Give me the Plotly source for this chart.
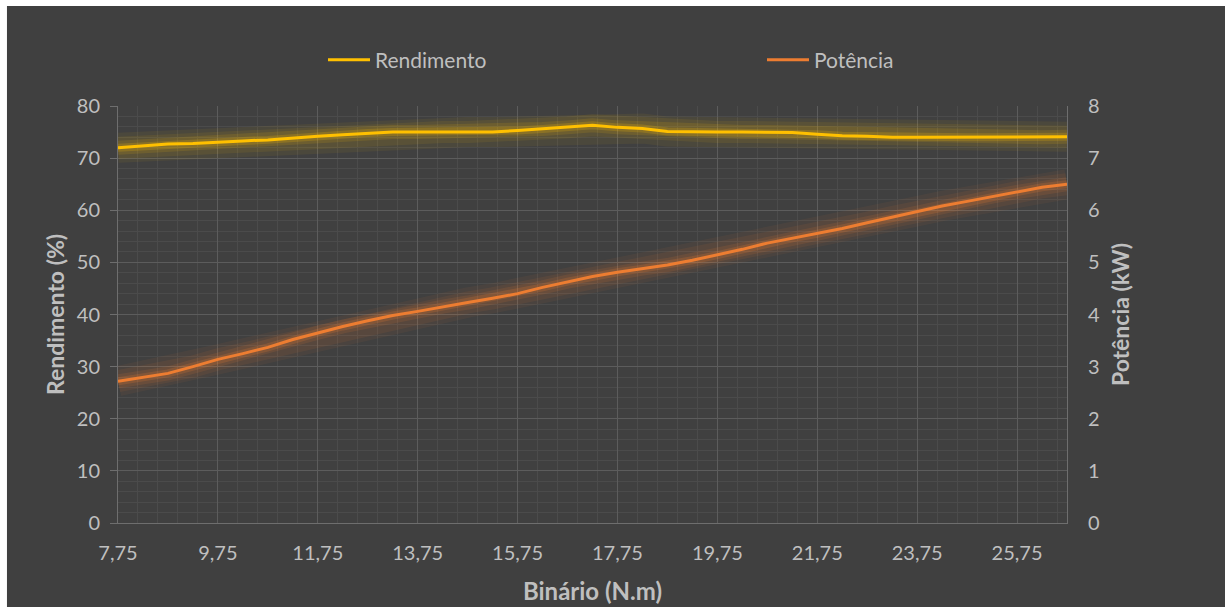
import plotly.graph_objects as go

# Binário (N.m)
binario = [7.75, 8.25, 8.75, 9.25, 9.75, 10.25, 10.75, 11.25, 11.75, 12.25,
           12.75, 13.25, 13.75, 14.25, 14.75, 15.25, 15.75, 16.25, 16.75, 17.25,
           17.75, 18.25, 18.75, 19.25, 19.75, 20.25, 20.75, 21.25, 21.75, 22.25,
           22.75, 23.25, 23.75, 24.25, 24.75, 25.25, 25.75, 26.25, 26.75]

# Rendimento (%)
rendimento = [72.0, 72.3, 72.7, 72.8, 73.1, 73.3, 73.5, 73.9, 74.2, 74.5,
              74.8, 75.0, 75.0, 75.0, 75.0, 75.0, 75.3, 75.6, 75.9, 76.3,
              75.9, 75.7, 75.1, 75.0, 75.0, 75.0, 75.0, 74.9, 74.6, 74.3,
              74.2, 74.0, 74.0, 74.0, 74.0, 74.0, 74.0, 74.0, 74.1]

# Potência (kW)
potencia = [2.72, 2.79, 2.87, 3.00, 3.14, 3.25, 3.37, 3.52, 3.65, 3.77,
            3.88, 3.98, 4.06, 4.15, 4.23, 4.31, 4.40, 4.52, 4.63, 4.73,
            4.81, 4.88, 4.95, 5.04, 5.14, 5.25, 5.37, 5.46, 5.55, 5.65,
            5.76, 5.87, 5.98, 6.08, 6.17, 6.26, 6.35, 6.44, 6.50]

YELLOW = "#FFC000"
ORANGE = "#ED7D31"
BG = "#404040"
TXT = "#BFBFBF"
FONT = "Lato"

fig = go.Figure()

# soft glow layers
for w, op in [(30, 0.06), (22, 0.08), (14, 0.12), (8, 0.2)]:
    fig.add_trace(go.Scatter(x=binario, y=rendimento, mode="lines",
                             line=dict(color=YELLOW, width=w), opacity=op,
                             showlegend=False, hoverinfo="skip"))
    fig.add_trace(go.Scatter(x=binario, y=potencia, mode="lines", yaxis="y2",
                             line=dict(color=ORANGE, width=w), opacity=op,
                             showlegend=False, hoverinfo="skip"))

fig.add_trace(go.Scatter(x=binario, y=rendimento, mode="lines", name="Rendimento",
                         line=dict(color=YELLOW, width=3)))
fig.add_trace(go.Scatter(x=binario, y=potencia, mode="lines", name="Potência",
                         yaxis="y2", line=dict(color=ORANGE, width=3)))

fig.update_layout(
    width=1225, height=607,
    margin=dict(l=118, r=158, t=106, b=84, autoexpand=False),
    paper_bgcolor="white",
    plot_bgcolor="rgba(0,0,0,0)",
    separators=",.",
    font=dict(family=FONT, color=TXT, size=20),
    shapes=[dict(type="rect", xref="paper", yref="paper",
                 x0=-0.117, x1=1.2, y0=-0.25, y1=1.2398,
                 fillcolor=BG, line=dict(width=0), layer="below")],
    xaxis=dict(
        range=[7.75, 26.75], tick0=7.75, dtick=2, tickformat=".2f",
        showgrid=True, gridcolor="#5C5C5C", gridwidth=1,
        minor=dict(tick0=7.75, dtick=0.4, showgrid=True, gridcolor="#4B4B4B", gridwidth=1),
        showline=True, linecolor="#6E6E6E", linewidth=1,
        zeroline=False, ticks="", ticklabelstandoff=12,
        tickfont=dict(size=20, color=TXT),
        title=dict(text="<b>Binário (N.m)</b>", font=dict(size=24, color=TXT), standoff=20),
    ),
    yaxis=dict(
        range=[0, 80], dtick=10,
        showgrid=True, gridcolor="#5C5C5C", gridwidth=1,
        minor=dict(dtick=2, showgrid=True, gridcolor="#4B4B4B", gridwidth=1),
        showline=True, linecolor="#6E6E6E", linewidth=1,
        zeroline=False, ticks="outside", ticklen=7, tickcolor="#6E6E6E",
        ticklabelstandoff=6,
        tickfont=dict(size=20, color=TXT),
        title=dict(text="<b>Rendimento (%)</b>", font=dict(size=23, color=TXT), standoff=5),
    ),
    yaxis2=dict(
        range=[0, 8], dtick=1, overlaying="y", side="right",
        showgrid=False, showline=True, linecolor="#6E6E6E", linewidth=1,
        zeroline=False, ticks="", ticklabelstandoff=16,
        tickfont=dict(size=20, color=TXT),
        title=dict(text="<b>Potência (kW)</b>", font=dict(size=23, color=TXT), standoff=13),
    ),
    legend=dict(
        orientation="h", xref="container", yref="container",
        x=323 / 1225, xanchor="left",
        y=1 - 60 / 607, yanchor="middle",
        entrywidth=382, entrywidthmode="pixels",
        font=dict(size=21, color=TXT), bgcolor="rgba(0,0,0,0)",
        itemwidth=42, tracegroupgap=0,
    ),
)

fig.write_html("out.html")
